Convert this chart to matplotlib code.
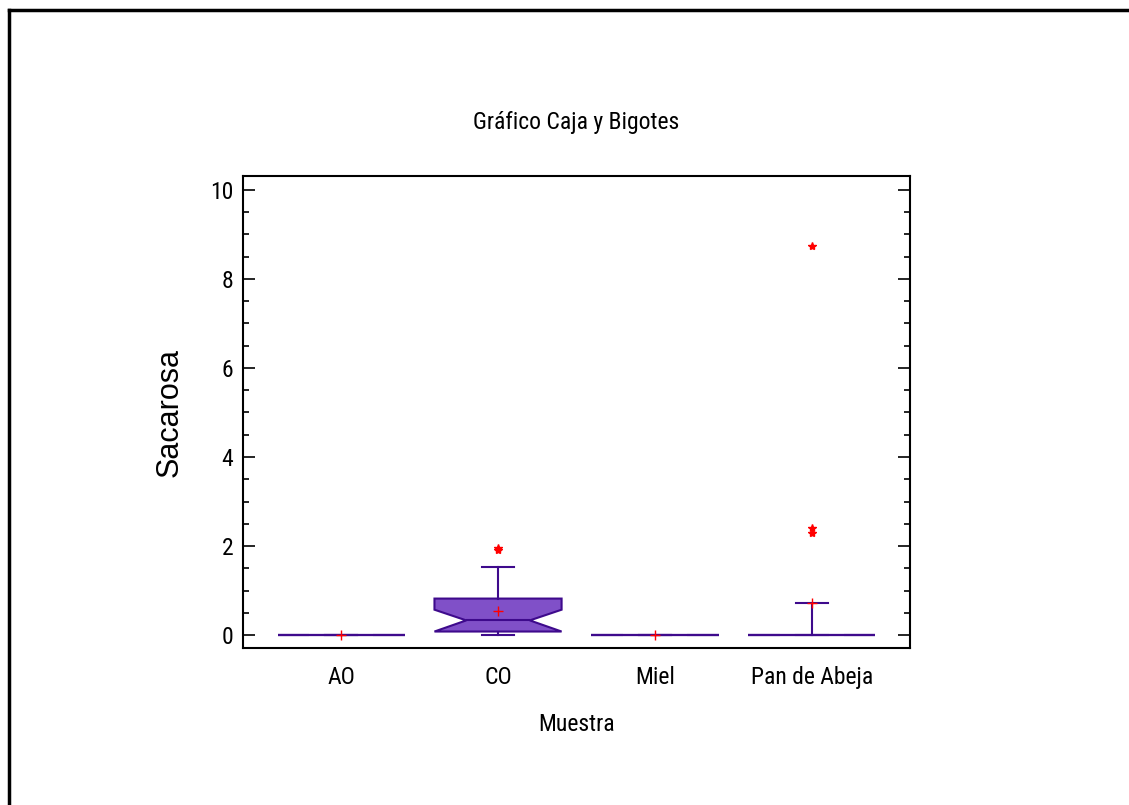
import matplotlib
matplotlib.use("Agg")
import matplotlib.pyplot as plt
from matplotlib.lines import Line2D
from matplotlib.ticker import MultipleLocator

categories = ["AO", "CO", "Miel", "Pan de Abeja"]
q1 = [0.0, 0.08, 0.0, 0.0]
median = [0.0, 0.33, 0.0, 0.0]
q3 = [0.0, 0.82, 0.0, 0.0]
whislo = [0.0, 0.0, 0.0, 0.0]
whishi = [0.0, 1.53, 0.0, 0.72]
means = [0.0, 0.55, 0.0, 0.72]
notch_lo = [0.0, 0.08, 0.0, 0.0]
notch_hi = [0.0, 0.57, 0.0, 0.0]
outliers = [[], [1.91, 1.95], [], [2.30, 2.40, 8.74]]

narrow = ["Roboto Condensed", "Archivo Narrow", "DejaVu Sans"]
regular = ["Liberation Sans", "DejaVu Sans"]

fig = plt.figure(figsize=(11.29, 8.05), dpi=100)
ax = fig.add_axes([243/1129, 1-648/805, (910-243)/1129, (648-176)/805])

stats = []
for i, c in enumerate(categories):
    stats.append(dict(label=c, q1=q1[i], med=median[i], q3=q3[i],
                      whislo=whislo[i], whishi=whishi[i], mean=means[i],
                      cilo=notch_lo[i], cihi=notch_hi[i], fliers=outliers[i]))

edge = "#3E0A8C"
fill = "#8050C8"
positions = [1, 2, 3, 4]
ax.bxp(stats, positions=positions, widths=0.81, capwidths=0.2,
       shownotches=True, showmeans=True, patch_artist=True,
       boxprops=dict(facecolor=fill, edgecolor=edge, linewidth=1.5),
       medianprops=dict(color=edge, linewidth=1.5),
       whiskerprops=dict(color=edge, linewidth=1.5),
       capprops=dict(color=edge, linewidth=1.5),
       meanprops=dict(marker="+", markeredgecolor="red", markersize=7, markeredgewidth=1),
       flierprops=dict(marker="*", markerfacecolor="red", markeredgecolor="red", markersize=6))

ax.set_xlim(0.375, 4.625)
ax.set_ylim(-0.29, 10.31)
ax.yaxis.set_major_locator(MultipleLocator(2))
ax.yaxis.set_minor_locator(MultipleLocator(0.5))
ax.tick_params(axis="y", which="major", direction="in", length=8.5, width=1.2, right=True, pad=7)
ax.tick_params(axis="y", which="minor", direction="in", length=4.5, width=1.2, right=True)
ax.tick_params(axis="x", length=0, pad=13)
ax.set_xticks(positions)
ax.set_xticklabels(categories, fontfamily=narrow, fontsize=17)
for lab in ax.get_yticklabels():
    lab.set_fontfamily(narrow)
    lab.set_fontsize(17)
for s in ax.spines.values():
    s.set_linewidth(1.5)

ax.set_title("Gráfico Caja y Bigotes", fontfamily=narrow, fontsize=17, pad=34)
ax.set_xlabel("Muestra", fontfamily=narrow, fontsize=17, labelpad=17)
ax.set_ylabel("Sacarosa", fontfamily=regular, fontsize=22, labelpad=18)

fig.add_artist(Line2D([9/1129, 1.0], [1-10.5/805, 1-10.5/805], color="black", lw=2.5, transform=fig.transFigure))
fig.add_artist(Line2D([9/1129, 9/1129], [0.0, 1-10.5/805], color="black", lw=2.5, transform=fig.transFigure))

fig.savefig("out.png", dpi=100)
